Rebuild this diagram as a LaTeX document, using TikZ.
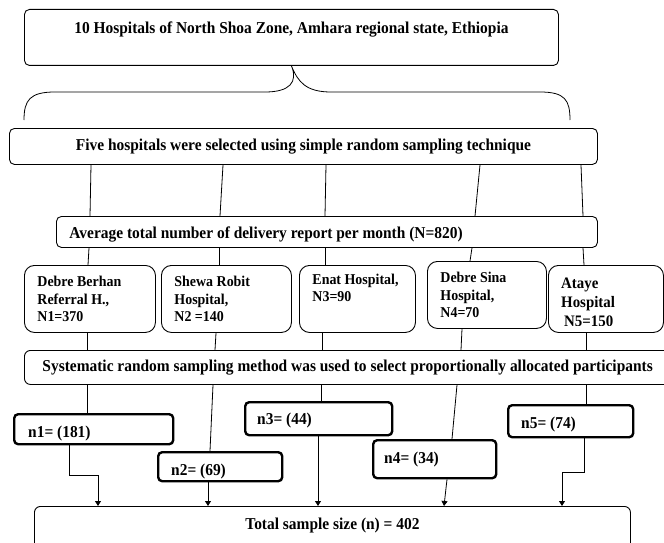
\documentclass[tikz,border=0pt]{standalone}
\usepackage{fontspec}
\setmainfont{Liberation Serif}[FakeStretch=0.93]
\usetikzlibrary{arrows.meta}
\tikzset{
  box/.style={draw, line width=0.9pt, rounded corners=5pt, anchor=north west, inner sep=0pt, font=\fontsize{16.6}{19}\bfseries},
  hbox/.style={box, rounded corners=10pt, align=flush left, inner xsep=13pt, font=\fontsize{15}{17.5}\bfseries},
  nbox/.style={box, line width=2.4pt, rounded corners=4pt},
  conn/.style={line width=0.8pt},
  arr/.style={conn, -{Triangle[length=5pt,width=6pt]}}
}
\begin{document}
\begin{tikzpicture}[x=1pt,y=-1pt]
\clip (0,0) rectangle (664,543);
% boxes
\node[box, minimum width=534pt, minimum height=56pt, text height=10pt, text depth=17pt] (top) at (24,9) {10 Hospitals of North Shoa Zone, Amhara regional state, Ethiopia};
\node[box, minimum width=588pt, minimum height=36pt] (five) at (9,128) {Five hospitals were selected using simple random sampling technique};
\node[box, minimum width=541pt, minimum height=31pt, text height=14.8pt, text depth=1pt] (avg) at (56,216) {\makebox[541pt][l]{\hspace{13pt}Average total number of delivery report per month (N=820)}};
\node[hbox, text width=105pt, minimum height=67pt] (h1) at (24,265) {Debre Berhan\\Referral H.,\\N1=370};
\node[hbox, text width=104pt, minimum height=67pt] (h2) at (161,265) {Shewa Robit\\Hospital,\\N2 =140};
\node[hbox, text width=90pt, minimum height=67pt] (h3) at (299,265) {Enat Hospital,\\N3=90\\\strut};
\node[hbox, text width=93pt, minimum height=67pt, yshift=2pt] (h4) at (427,263) {Debre Sina\\Hospital,\\N4=70};
\node[box, rounded corners=10pt, minimum width=115pt, minimum height=67pt] (h5) at (548,265) {};
\begin{scope}
\clip (548,266) rectangle (663,325);
\node[anchor=north west, inner sep=0pt, align=flush left, font=\fontsize{16}{19}\bfseries] (h5t) at (561,278) {Ataye\\Hospital\\\hspace{3pt}N5=150};
\end{scope}
\node[box, minimum width=646pt, minimum height=34pt, rounded corners=6pt] (sys) at (24,350) {\makebox[646pt][l]{\hspace{18pt}Systematic random sampling method was used to select proportionally allocated participants}};
\node[nbox, minimum width=159pt, minimum height=30pt, text height=18pt, text depth=1pt] (n1) at (13,413) {\makebox[159pt][l]{\hspace{14pt}n1= (181)}};
\node[nbox, minimum width=124pt, minimum height=29pt, text height=18.6pt, text depth=1pt] (n2) at (157,451) {\makebox[124pt][l]{\hspace{13pt}n2= (69)}};
\node[nbox, minimum width=147pt, minimum height=33pt, text height=12.6pt, text depth=1pt] (n3) at (244,401) {\makebox[147pt][l]{\hspace{12pt}n3= (44)}};
\node[nbox, minimum width=123pt, minimum height=38pt, text height=10.6pt, text depth=2pt] (n4) at (372,439) {\makebox[123pt][l]{\hspace{11pt}n4= (34)}};
\node[nbox, minimum width=125pt, minimum height=32pt, text height=15.6pt, text depth=1pt] (n5) at (507,404) {\makebox[125pt][l]{\hspace{13pt}n5= (74)}};
\node[box, minimum width=596pt, minimum height=60pt, rounded corners=6pt, text height=10pt, text depth=23pt] (tot) at (34,506) {Total sample size (n) = 402};
% brace
\draw[conn] (24,120) .. controls (24,100) and (30,92) .. (55,92) -- (265,92) .. controls (290,92) and (298,82) .. (top.south) .. controls (298,82) and (306,92) .. (331,92) -- (540,92) .. controls (565,92) and (570,100) .. (570,120);
% five -> avg
\draw[conn] (91,0 |- five.south) -- (90,0 |- avg.north);
\draw[conn] (223,0 |- five.south) -- (220,0 |- avg.north);
\draw[conn] (326,0 |- five.south) -- (325,0 |- avg.north);
\draw[conn] (480,0 |- five.south) -- (475,0 |- avg.north);
\draw[conn] (581,0 |- five.south) -- (583,0 |- avg.north);
% avg -> hospitals
\draw[conn] (89,0 |- avg.south) -- (88,0 |- h1.north);
\draw[conn] (219,0 |- avg.south) -- (219,0 |- h2.north);
\draw[conn] (325,0 |- avg.south) -- (325,0 |- h3.north);
\draw[conn] (472,0 |- avg.south) -- (470,0 |- h4.north);
\draw[conn] (583,0 |- avg.south) -- (584,0 |- h5.north);
% hospitals -> sys
\draw[conn] (87,0 |- h1.south) -- (87,0 |- sys.north);
\draw[conn] (216,0 |- h2.south) -- (215,0 |- sys.north);
\draw[conn] (322,0 |- h3.south) -- (322,0 |- sys.north);
\draw[conn] (462,0 |- h4.south) -- (461,0 |- sys.north);
\draw[conn] (586,0 |- h5.south) -- (586,0 |- sys.north);
% sys -> n
\draw[conn] (87,0 |- sys.south) -- (87,0 |- n1.north);
\draw[conn] (213,0 |- sys.south) -- (210,0 |- n2.north);
\draw[conn] (321,0 |- sys.south) -- (321,0 |- n3.north);
\draw[conn] (457,0 |- sys.south) -- (452,0 |- n4.north);
\draw[conn] (586,0 |- sys.south) -- (586,0 |- n5.north);
% n -> total
\draw[arr] (69,0 |- n1.south) -- (69,475) -- (98,475) -- (98,0 |- tot.north);
\draw[arr] (208,0 |- n2.south) -- (208,0 |- tot.north);
\draw[arr] (318,0 |- n3.south) -- (318,0 |- tot.north);
\draw[arr] (447,0 |- n4.south) -- (444,0 |- tot.north);
\draw[arr] (584,0 |- n5.south) -- (584,472) -- (562,472) -- (562,0 |- tot.north);
\end{tikzpicture}
\end{document}
